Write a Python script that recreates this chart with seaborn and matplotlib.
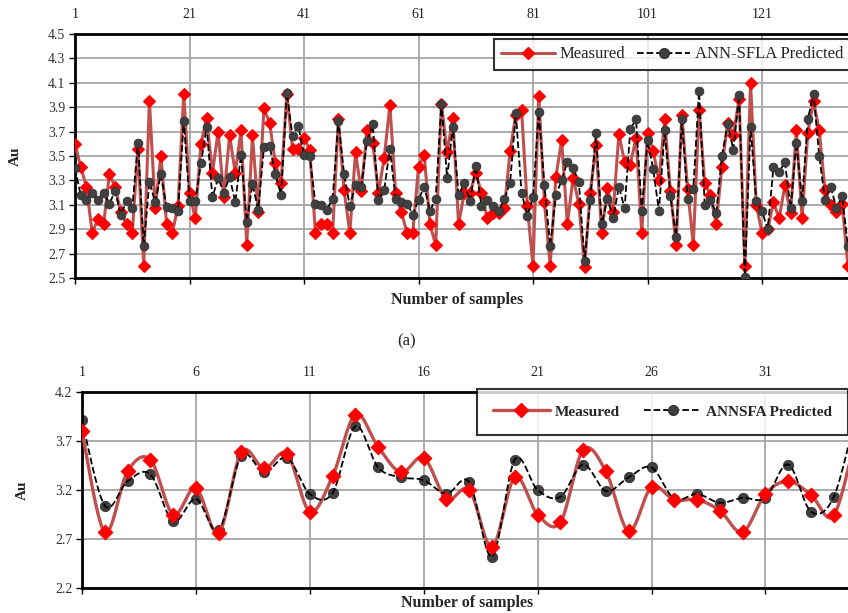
import numpy as np
import pandas as pd
import matplotlib
matplotlib.use("Agg")
import matplotlib.pyplot as plt
import seaborn as sns
from matplotlib.lines import Line2D

# ---------------- data ----------------
top_measured = [3.60, 3.41, 3.25, 2.87, 2.98, 2.94, 3.35, 3.25, 3.04, 2.94,
                2.87, 3.56, 2.60, 3.95, 3.07, 3.50, 2.94, 2.87, 3.09, 4.01,
                3.20, 2.99, 3.60, 3.81, 3.36, 3.70, 3.16, 3.67, 3.36, 3.71,
                2.77, 3.67, 3.04, 3.89, 3.77, 3.44, 3.28, 4.01, 3.56, 3.56,
                3.65, 3.55, 2.87, 2.94, 2.94, 2.87, 3.80, 3.22, 2.87, 3.53,
                3.21, 3.71, 3.61, 3.20, 3.48, 3.92, 3.20, 3.04, 2.87, 2.87,
                3.41, 3.51, 2.94, 2.77, 3.93, 3.53, 3.81, 2.94, 3.20, 3.20,
                3.36, 3.20, 2.99, 3.03, 3.03, 3.07, 3.54, 3.84, 3.88, 3.09,
                2.60, 3.99, 3.12, 2.60, 3.33, 3.63, 2.94, 3.32, 3.11, 2.59,
                3.20, 3.59, 2.87, 3.24, 3.04, 3.68, 3.45, 3.43, 3.65, 2.87,
                3.69, 3.54, 3.30, 3.80, 3.21, 2.77, 3.84, 3.23, 2.77, 3.88,
                3.28, 3.18, 2.94, 3.41, 3.77, 3.67, 3.97, 2.60, 4.10, 3.10,
                2.87, 2.90, 3.12, 2.99, 3.26, 3.03, 3.71, 2.99, 3.69, 3.95,
                3.71, 3.22, 3.10, 3.04, 3.11, 2.60]
top_predicted = [3.40, 3.18, 3.14, 3.20, 3.14, 3.20, 3.11, 3.21, 3.02, 3.13,
                 3.07, 3.61, 2.76, 3.29, 3.12, 3.35, 3.08, 3.07, 3.05, 3.79,
                 3.13, 3.13, 3.44, 3.74, 3.16, 3.32, 3.20, 3.33, 3.12, 3.51,
                 2.96, 3.27, 3.06, 3.57, 3.58, 3.35, 3.18, 4.02, 3.66, 3.75,
                 3.51, 3.50, 3.11, 3.10, 3.06, 3.15, 3.79, 3.35, 3.09, 3.26,
                 3.25, 3.62, 3.76, 3.14, 3.22, 3.56, 3.15, 3.12, 3.11, 3.02,
                 3.14, 3.25, 3.05, 3.15, 3.93, 3.32, 3.74, 3.18, 3.28, 3.13,
                 3.42, 3.09, 3.14, 3.09, 3.05, 3.15, 3.28, 3.85, 3.20, 3.01,
                 3.16, 3.86, 3.26, 2.76, 3.18, 3.30, 3.45, 3.40, 3.29, 2.64,
                 3.14, 3.69, 2.94, 3.15, 2.99, 3.25, 3.07, 3.72, 3.80, 3.05,
                 3.63, 3.39, 3.05, 3.71, 3.17, 2.84, 3.80, 3.15, 3.23, 4.03,
                 3.10, 3.14, 3.03, 3.50, 3.76, 3.55, 4.00, 2.51, 3.74, 3.13,
                 3.05, 2.90, 3.41, 3.37, 3.45, 3.07, 3.61, 3.13, 3.80, 4.01,
                 3.50, 3.14, 3.25, 3.07, 3.17, 2.76]
top_xticks = [1, 21, 41, 61, 81, 101, 121]
top_yticks = [2.5, 2.7, 2.9, 3.1, 3.3, 3.5, 3.7, 3.9, 4.1, 4.3, 4.5]

bottom_measured = [3.80, 2.77, 3.39, 3.51, 2.95, 3.22, 2.76, 3.59, 3.42, 3.57,
                   2.98, 3.34, 3.97, 3.64, 3.38, 3.53, 3.11, 3.20, 2.62, 3.33,
                   2.95, 2.87, 3.61, 3.39, 2.78, 3.23, 3.10, 3.10, 2.99, 2.77,
                   3.16, 3.29, 3.15, 2.94, 3.78]
bottom_predicted = [3.91, 3.04, 3.29, 3.36, 2.88, 3.11, 2.79, 3.55, 3.38, 3.53,
                    3.16, 3.17, 3.85, 3.43, 3.33, 3.30, 3.16, 3.28, 2.52, 3.51,
                    3.20, 3.13, 3.46, 3.19, 3.33, 3.43, 3.11, 3.16, 3.07, 3.12,
                    3.12, 3.46, 2.98, 3.13, 4.00]
bottom_xticks = [1, 6, 11, 16, 21, 26, 31]
bottom_yticks = [2.2, 2.7, 3.2, 3.7, 4.2]

top_labels = ["Measured", "ANN-SFLA Predicted"]
bottom_labels = ["Measured", "ANNSFA Predicted"]

# ---------------- style ----------------
sns.set_theme(style="white")
plt.rcParams['font.family'] = ['Liberation Serif', 'DejaVu Serif']

RED_LINE = "#C0504D"
RED_MARK = "#FF0000"
DARK = "#404040"
GRID = "#A6A6A6"

W, H = 848, 613
fig = plt.figure(figsize=(W / 100, H / 100), dpi=100)


def ax_rect(left, top, right, bottom):
    return [left / W, 1 - bottom / H, (right - left) / W, (bottom - top) / H]


def catmull(x, y, n=30):
    x = np.asarray(x, float)
    y = np.asarray(y, float)
    px = np.concatenate([[x[0]], x, [x[-1]]])
    py = np.concatenate([[y[0]], y, [y[-1]]])
    xs, ys = [], []
    t = np.linspace(0, 1, n, endpoint=False)
    for i in range(1, len(px) - 2):
        p0, p1, p2, p3 = px[i - 1], px[i], px[i + 1], px[i + 2]
        q0, q1, q2, q3 = py[i - 1], py[i], py[i + 1], py[i + 2]
        cx1, cy1 = p1 + (p2 - p0) / 6, q1 + (q2 - q0) / 6
        cx2, cy2 = p2 - (p3 - p1) / 6, q2 - (q3 - q1) / 6
        bx = (1 - t) ** 3 * p1 + 3 * (1 - t) ** 2 * t * cx1 + 3 * (1 - t) * t ** 2 * cx2 + t ** 3 * p2
        by = (1 - t) ** 3 * q1 + 3 * (1 - t) ** 2 * t * cy1 + 3 * (1 - t) * t ** 2 * cy2 + t ** 3 * q2
        xs.append(bx)
        ys.append(by)
    xs.append([x[-1]])
    ys.append([y[-1]])
    return np.concatenate(xs), np.concatenate(ys)


def style_axes(ax, xticks, yticks, ylim, xlim):
    ax.set_xlim(*xlim)
    ax.set_ylim(*ylim)
    ax.set_xticks(xticks)
    ax.set_yticks(yticks)
    ax.set_yticklabels([f"{v:.1f}" for v in yticks])
    ax.grid(True, color=GRID, linewidth=1.3)
    ax.set_axisbelow(True)
    for s in ["left", "bottom", "top"]:
        ax.spines[s].set_visible(True)
        ax.spines[s].set_color("black")
        ax.spines[s].set_linewidth(2.0)
    ax.spines["right"].set_visible(False)
    ax.tick_params(axis="x", bottom=True, top=False, labelbottom=False, labeltop=True,
                   length=4, width=1, color="black", labelsize=10, pad=5, labelcolor="#222222")
    ax.tick_params(axis="y", left=True, length=4, width=1, color="black",
                   labelsize=10, pad=3, labelcolor="#333333")
    ax.set_xlabel("")
    ax.set_ylabel("")


# ---------------- top panel ----------------
ax1 = fig.add_axes(ax_rect(75, 34, 856, 278))
n_top = np.arange(1, len(top_measured) + 1)
df_top = pd.DataFrame({"n": n_top, "m": top_measured, "p": top_predicted})
sns.lineplot(data=df_top, x="n", y="m", ax=ax1, color=RED_LINE, linewidth=2.2,
             marker="D", markersize=6, markerfacecolor=RED_MARK,
             markeredgecolor=RED_MARK, markeredgewidth=0.8, zorder=3)
sns.lineplot(data=df_top, x="n", y="p", ax=ax1, color="black", linewidth=1.3,
             linestyle="--", marker="o", markersize=6.3, markerfacecolor=DARK,
             markeredgecolor="#333333", markeredgewidth=0.6, zorder=4)
style_axes(ax1, top_xticks, top_yticks, (2.5, 4.5), (1, 1 + (856 - 75) / 5.725))

h1 = [Line2D([], [], color=RED_LINE, lw=2.2, marker="D", markersize=6.5,
             markerfacecolor=RED_MARK, markeredgecolor=RED_MARK),
      Line2D([], [], color="black", lw=1.3, ls="--", marker="o", markersize=7,
             markerfacecolor=DARK, markeredgecolor="#333333")]
leg1 = fig.legend(h1, top_labels, loc="upper left",
                  bbox_to_anchor=(494 / W, 1 - 39 / H), bbox_transform=fig.transFigure,
                  ncol=2, frameon=True, fancybox=False, edgecolor="black",
                  fontsize=12, handlelength=3.2, handletextpad=0.3,
                  columnspacing=0.7, borderpad=0.45, borderaxespad=0)
leg1.get_frame().set_linewidth(1.5)

fig.text(15 / W, 1 - 156 / H, "Au", rotation=90, ha="center", va="center",
         fontsize=11, fontweight="bold")
fig.text(457 / W, 1 - 300 / H, "Number of samples", ha="center", va="center",
         fontsize=11.5, fontweight="bold")
fig.text(407 / W, 1 - 341 / H, "(a)", ha="center", va="center", fontsize=12)

# ---------------- bottom panel ----------------
ax2 = fig.add_axes(ax_rect(82, 392, 856, 588))
n_bot = np.arange(1, len(bottom_measured) + 1)
sx, sy_m = catmull(n_bot, bottom_measured)
_, sy_p = catmull(n_bot, bottom_predicted)
df_smooth = pd.DataFrame({"x": sx, "m": sy_m, "p": sy_p})
df_bot = pd.DataFrame({"n": n_bot, "m": bottom_measured, "p": bottom_predicted})

sns.lineplot(data=df_smooth, x="x", y="m", ax=ax2, color=RED_LINE, linewidth=2.4,
             sort=False, zorder=3)
sns.scatterplot(data=df_bot, x="n", y="m", ax=ax2, marker="D", s=55,
                color=RED_MARK, edgecolor=RED_MARK, linewidth=0.8, zorder=4)
sns.lineplot(data=df_smooth, x="x", y="p", ax=ax2, color="black", linewidth=1.3,
             linestyle="--", sort=False, zorder=3.5)
sns.scatterplot(data=df_bot, x="n", y="p", ax=ax2, marker="o", s=55,
                color=DARK, edgecolor="#333333", linewidth=0.6, zorder=2.5)
style_axes(ax2, bottom_xticks, bottom_yticks, (2.2, 4.2), (1, 1 + (856 - 82) / 22.78))

h2 = [Line2D([], [], color=RED_LINE, lw=2.4, marker="D", markersize=7,
             markerfacecolor=RED_MARK, markeredgecolor=RED_MARK),
      Line2D([], [], color="black", lw=1.3, ls="--", marker="o", markersize=7,
             markerfacecolor=DARK, markeredgecolor="#333333")]
leg2 = fig.legend(h2, bottom_labels, loc="upper left",
                  bbox_to_anchor=(477 / W, 1 - 389 / H), bbox_transform=fig.transFigure,
                  ncol=2, frameon=True, fancybox=False, edgecolor="black",
                  prop={"size": 11, "weight": "bold"}, handlelength=3.7,
                  handletextpad=0.35, columnspacing=1.6, borderpad=1.05,
                  borderaxespad=0)
leg2.get_frame().set_linewidth(1.5)

fig.text(22 / W, 1 - 490 / H, "Au", rotation=90, ha="center", va="center",
         fontsize=11, fontweight="bold")
fig.text(467 / W, 1 - 603 / H, "Number of samples", ha="center", va="center",
         fontsize=11.5, fontweight="bold")

fig.savefig("out.png", dpi=100)
